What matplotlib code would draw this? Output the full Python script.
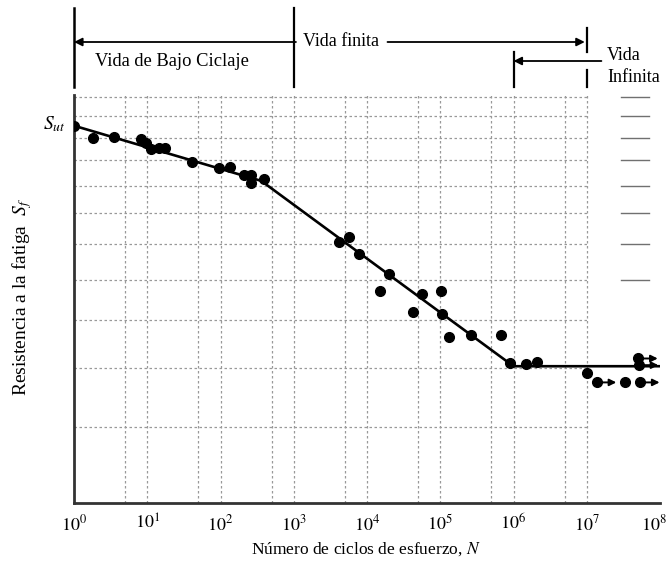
import numpy as np
import matplotlib
matplotlib.use('Agg')
import matplotlib.pyplot as plt
from matplotlib.transforms import blended_transform_factory, ScaledTranslation

plt.rcParams['font.family'] = ['Liberation Serif', 'DejaVu Serif']
plt.rcParams['mathtext.fontset'] = 'stix'

# ---------------- data ----------------
# failure points (N cycles, strength S in arbitrary units, log scale)
N_points = [1, 1.8, 3.5, 8.1, 9.5, 11.1, 14.4, 17.3, 40.5, 96, 136, 208, 263, 257, 387,
            4160, 5600, 7830, 20250, 15230, 57000, 42900, 104000, 107000, 130000,
            266000, 680000, 887000, 1.5e6, 2.1e6, 1.0e7, 3.34e7]
S_points = [125.5, 120.0, 120.4, 119.4, 117.4, 114.9, 115.5, 115.2, 109.3, 107.0, 107.4,
            104.1, 104.1, 100.8, 102.4,
            80.8, 82.2, 77.1, 71.4, 67.0, 66.2, 61.9, 67.0, 61.5, 56.4,
            56.7, 56.7, 51.1, 50.8, 51.2, 49.2, 47.4]
# run-outs (no failure), drawn with arrows
N_runout = [1.36e7, 5.3e7, 5.0e7, 5.1e7]
S_runout = [47.4, 47.4, 51.9, 50.6]

# S-N curve
N_curve = [1, 360, 1e6, 1e8]
S_curve = [125.5, 101.8, 50.4, 50.4]
S_ut = 125.5

x_ticks = [10.0**k for k in range(9)]
x_ticklabels = [r'$10^{%d}$' % k for k in range(9)]
y_grid = [40, 50, 60, 70, 80, 90, 100, 110, 120, 130, 140]
y_grid_right = [70, 80, 90, 100, 110, 120, 130, 140]
x_grid = [5, 10, 50, 100, 500, 1e3, 5e3, 1e4, 5e4, 1e5, 5e5, 1e6, 5e6, 1e7]

# region boundaries for annotations
b_low, b_fin, b_inf, b_end = 1, 1e3, 1e6, 1e7

# ---------------- figure ----------------
fig = plt.figure(figsize=(6.69, 5.67), dpi=100)
ax = fig.add_axes([74/669, 1-503/567, (660-74)/669, (503-95)/567])
ax.set_xscale('log')
ax.set_yscale('log')
ax.set_xlim(1, 1e8)
ax.set_ylim(30, 141)

gcol = '#999999'
for v in y_grid:
    ax.plot([1, 1e7], [v, v], color=gcol, lw=0.9, ls=(0, (2, 2)), zorder=1)
for v in y_grid_right:
    ax.plot([10**7.47, 10**7.85], [v, v], color='#707070', lw=1.0, zorder=1)
for v in x_grid:
    ax.plot([v, v], [30, 141], color=gcol, lw=0.9, ls=(0, (2, 2)), zorder=1)

# curve
ax.plot(N_curve, S_curve, color='black', lw=1.9, zorder=3, solid_capstyle='butt')
# points
ax.plot(N_points, S_points, 'o', color='black', ms=7, zorder=4)
ax.plot(N_runout, S_runout, 'o', color='black', ms=7, zorder=4)
for n, s in zip(N_runout, S_runout):
    ax.annotate('', xy=(n*10**0.27, s), xytext=(n, s),
                arrowprops=dict(arrowstyle='-|>', color='black', lw=1.4,
                                shrinkA=4, shrinkB=0, mutation_scale=10),
                zorder=4, annotation_clip=False)

ax.annotate(r'$\mathit{S_{ut}}$', xy=(1, S_ut), xytext=(-6, 1), textcoords='offset points',
            ha='right', va='center', fontsize=14)

# axes styling
for sp in ['top', 'right']:
    ax.spines[sp].set_visible(False)
for sp in ['left', 'bottom']:
    ax.spines[sp].set_linewidth(2.0)
    ax.spines[sp].set_color('#333333')
ax.set_xticks(x_ticks)
ax.set_xticklabels(x_ticklabels, fontsize=13)
ax.xaxis.set_minor_locator(matplotlib.ticker.NullLocator())
ax.yaxis.set_minor_locator(matplotlib.ticker.NullLocator())
ax.set_yticks([])
ax.tick_params(axis='x', length=0, pad=8)
last = ax.get_xticklabels()[-1]
last.set_transform(last.get_transform() + ScaledTranslation(-0.06, 0, fig.dpi_scale_trans))

fig.text(366/669, 1-549/567, r'Número de ciclos de esfuerzo, $N$', ha='center', va='center',
         fontsize=12.5)
fig.text(22/669, 1-297/567, r'Resistencia a la fatiga  $S_f$', ha='center', va='center',
         rotation=90, fontsize=14)

# annotations above the chart
tr = blended_transform_factory(ax.transData, fig.transFigure)
def fy(py):
    return 1 - py/567

ak = dict(color='black', transform=tr, clip_on=False)
ax.plot([b_low, b_low], [fy(8), fy(87)], lw=1.8, **ak)
ax.plot([b_fin, b_fin], [fy(8), fy(87)], lw=1.6, **ak)
ax.plot([b_end, b_end], [fy(28), fy(52)], lw=1.6, **ak)
ax.plot([b_end, b_end], [fy(70), fy(87)], lw=1.6, **ak)
ax.plot([b_inf, b_inf], [fy(52), fy(87)], lw=1.6, **ak)

ap = dict(arrowstyle='-|>', color='black', lw=1.3, mutation_scale=12, shrinkA=0, shrinkB=0)
ax.annotate('', xy=(b_low, fy(42)), xycoords=tr, xytext=(10**3.03, fy(42)), textcoords=tr,
            arrowprops=ap, annotation_clip=False)
ax.annotate('', xy=(b_end*0.94, fy(42)), xycoords=tr, xytext=(10**4.28, fy(42)), textcoords=tr,
            arrowprops=ap, annotation_clip=False)
ax.annotate('', xy=(b_inf, fy(61)), xycoords=tr, xytext=(10**7.2, fy(61)), textcoords=tr,
            arrowprops=ap, annotation_clip=False)

ax.text(10**3.65, fy(42), 'Vida finita', ha='center', va='center', fontsize=13, **ak)
ax.text(10**0.29, fy(62), 'Vida de Bajo Ciclaje', ha='left', va='center', fontsize=13.3, **ak)
ax.text(10**7.28, fy(55), 'Vida', ha='left', va='center', fontsize=13, **ak)
ax.text(10**7.28, fy(78), 'Infinita', ha='left', va='center', fontsize=13, **ak)

fig.savefig('out.png', dpi=100)
